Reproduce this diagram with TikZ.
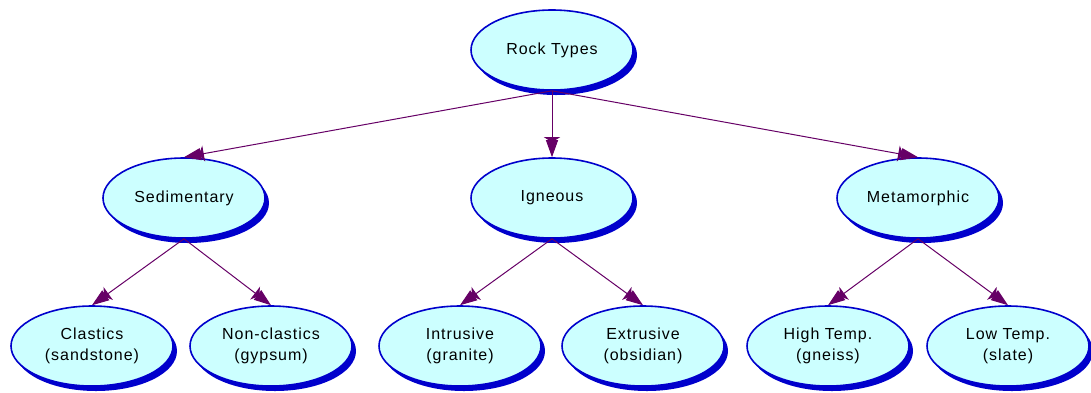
\documentclass[tikz,border=0pt]{standalone}
\usepackage{fontspec}
\setmainfont{Liberation Sans}[LetterSpace=6]
\usepackage{xcolor}
\usetikzlibrary{shapes.geometric,shadows,arrows.meta}
\definecolor{bubble}{HTML}{CCFFFF}
\definecolor{rim}{HTML}{0000CC}
\definecolor{plum}{HTML}{660066}
\tikzset{
  rockhead/.tip={Triangle[length=5pt,width=16pt,sep=-2pt]Triangle[length=17pt,width=12pt,line width=1pt]},
  rock/.style={ellipse, draw=rim, line width=1.6pt, fill=bubble, minimum width=162pt, minimum height=80pt,
    inner sep=0pt, align=center, font=\fontsize{16}{21}\selectfont,
    drop shadow={shadow xshift=4pt, shadow yshift=-5pt, fill=rim, opacity=1}},
  link/.style={draw=plum, line width=1pt, -rockhead}
}

\begin{document}
\begin{tikzpicture}[x=1pt,y=-1pt]
\useasboundingbox (0,0) rectangle (1091,392);
% top
\node[rock] (rock) at (552,50) {Rock Types};
% middle row
\node[rock] (sed) at (184,198) {Sedimentary};
\node[rock] (ign) at (552,198) {Igneous};
\node[rock] (meta) at (918,198) {Metamorphic};
% bottom row
\node[rock] (clas) at (92,346) {Clastics\\(sandstone)};
\node[rock] (nonclas) at (271,346) {Non-clastics\\(gypsum)};
\node[rock] (intr) at (460,346) {Intrusive\\(granite)};
\node[rock] (extr) at (643,346) {Extrusive\\(obsidian)};
\node[rock] (high) at (828,346) {High Temp.\\(gneiss)};
\node[rock] (low) at (1008,346) {Low Temp.\\(slate)};
% links
\draw[link] (rock.south) -- (sed.north);
\draw[link] (rock.south) -- (ign.north);
\draw[link] (rock.south) -- (meta.north);
\draw[link] (sed.south) -- (clas.north);
\draw[link] (sed.south) -- (nonclas.north);
\draw[link] (ign.south) -- (intr.north);
\draw[link] (ign.south) -- (extr.north);
\draw[link] (meta.south) -- (high.north);
\draw[link] (meta.south) -- (low.north);
\end{tikzpicture}
\end{document}
